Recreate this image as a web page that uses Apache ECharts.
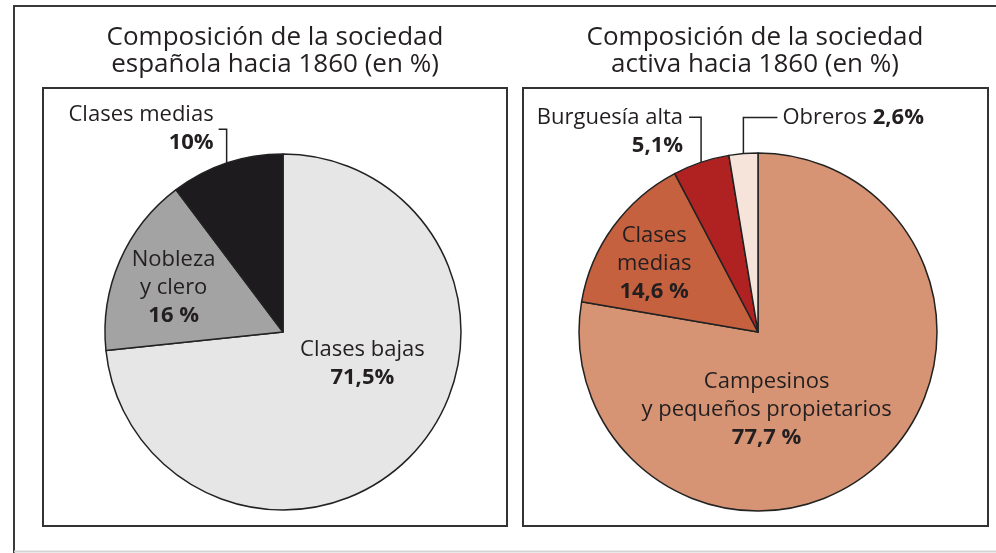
<!DOCTYPE html>
<html>
<head>
<meta charset="utf-8">
<script src="https://cdn.jsdelivr.net/npm/echarts@6/dist/echarts.min.js"></script>
<style>
  html, body { margin: 0; padding: 0; background: #fff; }
  #chart { width: 996px; height: 553px; }
</style>
</head>
<body>
<div id="chart"></div>
<script>
// Sociedad española hacia 1860
var leftTitle = 'Composición de la sociedad\nespañola hacia 1860 (en %)';
var leftNames = ['Clases bajas', 'Nobleza\ny clero', 'Clases medias'];
var leftValues = [71.5, 16, 10];
var leftPct = ['71,5%', '16 %', '10%'];
var leftColors = ['#e6e6e6', '#a3a3a3', '#1d1b1e'];

// Sociedad activa hacia 1860
var rightTitle = 'Composición de la sociedad\nactiva hacia 1860 (en %)';
var rightNames = ['Campesinos\ny pequeños propietarios', 'Clases\nmedias', 'Burguesía alta', 'Obreros'];
var rightValues = [77.7, 14.6, 5.1, 2.6];
var rightPct = ['77,7 %', '14,6 %', '5,1%', '2,6%'];
var rightColors = ['#d69474', '#c5613f', '#b02222', '#f6e4db'];

var FONT = '"Open Sans", "Noto Sans", sans-serif';
var INK = '#231f20';

// label placement: inside labels get a shift, outside ones a bent leader
var leftLayout = [
    { dx: 11, dy: -30 },
    { dx: -25, dy: -8 },
    { rise: 34, run: -8, gap: 5, vAlign: 'middle' }
];
var rightLayout = [
    { dx: -51, dy: 7 },
    { dx: -29, dy: -14 },
    { rise: 45, run: -12, gap: 6, vAlign: 'top' },
    { rise: 36, run: 34, gap: 5, vAlign: 'middle' }
];
var outsideIdx = { left: [2], right: [2, 3] };

function labelText(name, pct, oneLine) {
    var lines = name.split('\n').map(function (s) { return '{n|' + s + '}'; });
    if (oneLine) return lines.join('') + '{n| }{v|' + pct + '}';
    return lines.join('\n') + '\n{v|' + pct + '}';
}

function makeLayout(cfg) {
    return function (params) {
        var c = cfg[params.dataIndex];
        if (!c) return;
        if (c.rise == null) return { dx: c.dx, dy: c.dy };
        var pts = params.labelLinePoints;
        if (!pts || !pts.length) return;
        var e = pts[0];
        var ly = e[1] - c.rise;
        var lx = e[0] + c.run;
        var toLeft = c.run < 0;
        return {
            x: lx + (toLeft ? -c.gap : c.gap),
            y: c.vAlign === 'top' ? ly - 14 : ly,
            align: toLeft ? 'right' : 'left',
            verticalAlign: c.vAlign,
            labelLinePoints: [[e[0], e[1]], [e[0], ly], [lx, ly]]
        };
    };
}

function buildData(names, values, pcts, colors, outside, singleLine) {
    return names.map(function (name, i) {
        var isOut = outside.indexOf(i) >= 0;
        return {
            name: name,
            value: values[i],
            itemStyle: { color: colors[i] },
            label: {
                position: isOut ? 'outside' : 'inside',
                formatter: labelText(name, pcts[i], singleLine.indexOf(i) >= 0)
            },
            labelLine: { show: isOut }
        };
    });
}

var rich = {
    n: { fontFamily: FONT, fontSize: 22, color: INK, lineHeight: 28 },
    v: { fontFamily: FONT, fontSize: 22, fontWeight: 'bold', color: INK, lineHeight: 28 }
};

function pieSeries(center, radius, data, layout) {
    return {
        type: 'pie',
        center: center,
        radius: radius,
        startAngle: 90,
        clockwise: true,
        avoidLabelOverlap: false,
        silent: true,
        animation: false,
        itemStyle: { borderColor: '#222', borderWidth: 1.5 },
        label: { show: true, rich: rich, color: INK },
        labelLine: {
            show: true,
            length: 20,
            length2: 10,
            lineStyle: { color: '#222', width: 1.5 }
        },
        labelLayout: makeLayout(layout),
        data: data
    };
}

var chart = echarts.init(document.getElementById('chart'), null, { renderer: 'canvas' });

var titleStyle = {
    fontFamily: FONT,
    fontSize: 26,
    fontWeight: 'normal',
    color: INK,
    lineHeight: 27
};

var option = {
    backgroundColor: '#fff',
    animation: false,
    title: [
        { text: leftTitle, left: 275, top: 24, padding: 0, textAlign: 'center', textStyle: titleStyle },
        { text: rightTitle, left: 755, top: 24, padding: 0, textAlign: 'center', textStyle: titleStyle }
    ],
    graphic: [
        {
            type: 'polyline', z: -10,
            shape: { points: [[14, 553], [14, 6], [996, 6]] },
            style: { stroke: '#3a3a3a', lineWidth: 2, fill: null }
        },
        {
            type: 'line', z: -10,
            shape: { x1: 14, y1: 551.5, x2: 996, y2: 551.5 },
            style: { stroke: '#d4d4d4', lineWidth: 2 }
        },
        {
            type: 'rect', z: -10,
            shape: { x: 43, y: 88, width: 464, height: 438 },
            style: { stroke: '#333', lineWidth: 2, fill: '#fff' }
        },
        {
            type: 'rect', z: -10,
            shape: { x: 523, y: 88, width: 465, height: 438 },
            style: { stroke: '#333', lineWidth: 2, fill: '#fff' }
        }
    ],
    series: [
        pieSeries([283, 332], 178,
            buildData(leftNames, leftValues, leftPct, leftColors, outsideIdx.left, []),
            leftLayout),
        pieSeries([758, 332], 179,
            buildData(rightNames, rightValues, rightPct, rightColors, outsideIdx.right, [3]),
            rightLayout)
    ]
};

chart.setOption(option);
</script>
</body>
</html>
